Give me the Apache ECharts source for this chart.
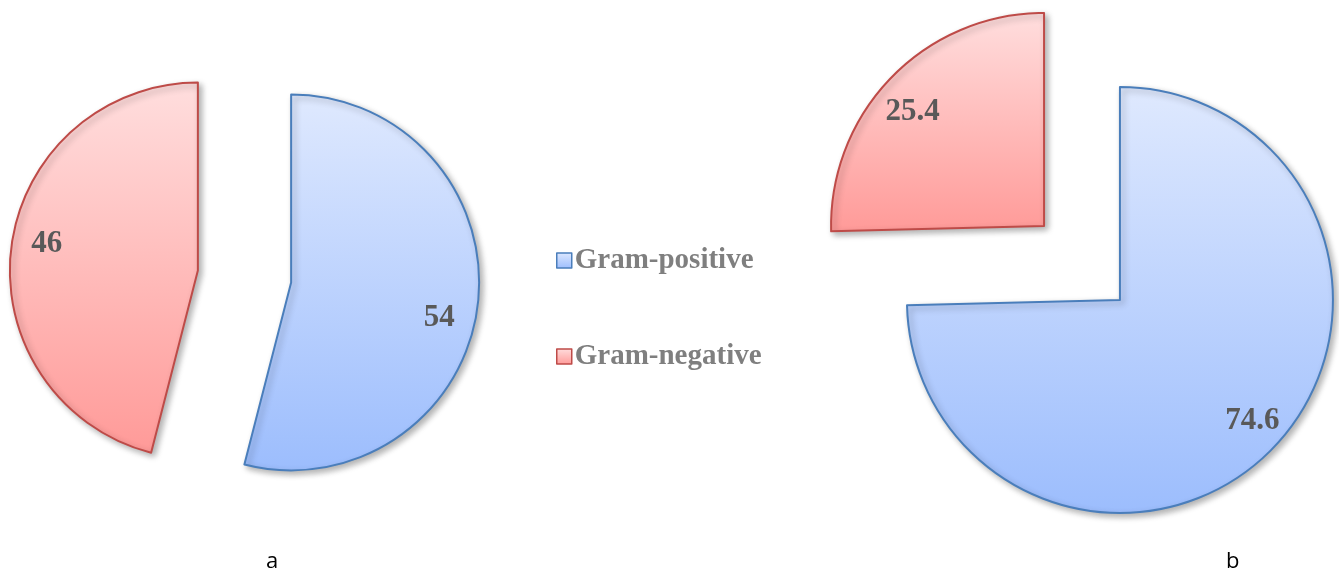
<!DOCTYPE html>
<html>
<head>
<meta charset="utf-8">
<script src="https://cdn.jsdelivr.net/npm/echarts@6/dist/echarts.min.js"></script>
<style>
html,body{margin:0;padding:0;background:#fff;}
#chart{width:1339px;height:571px;}
</style>
</head>
<body>
<div id="chart"></div>
<script>
// Data
const categories = ['Gram-positive', 'Gram-negative'];
const valuesA = [54, 46];
const valuesB = [74.6, 25.4];
const panelLabels = ['a', 'b'];

// Styles
const fills = [
  {top: '#dfe9fe', bottom: '#9cbdfd', border: '#4a7ebb'},
  {top: '#ffdede', bottom: '#ff9a98', border: '#be4b48'}
];
function grad(i) {
  return {type: 'linear', x: 0, y: 0, x2: 0, y2: 1,
    colorStops: [{offset: 0, color: fills[i].top}, {offset: 1, color: fills[i].bottom}]};
}
function makeData(vals) {
  return categories.map((c, i) => ({
    name: c, value: vals[i], selected: true,
    itemStyle: {color: grad(i), borderColor: fills[i].border, borderWidth: 2,
      shadowBlur: 6, shadowOffsetX: 3, shadowOffsetY: 3, shadowColor: 'rgba(0,0,0,0.3)'}
  }));
}
const labelFont = {fontFamily: 'Liberation Serif', fontWeight: 'bold', fontSize: 31, color: '#595959'};
const shiftA = [[52, 23], [-55, -14]];
const shiftB = [[54, 45], [-53, -38]];

const chart = echarts.init(document.getElementById('chart'));
chart.setOption({
  animation: false,
  title: [
    {text: panelLabels[0], left: 261, top: 546,
      textStyle: {fontFamily: 'Open Sans', fontWeight: 'normal', fontSize: 22, color: '#000'}},
    {text: panelLabels[1], left: 1221, top: 546,
      textStyle: {fontFamily: 'Open Sans', fontWeight: 'normal', fontSize: 22, color: '#000'}}
  ],
  legend: {
    orient: 'vertical', left: 551, top: 241, itemGap: 67,
    itemWidth: 15, itemHeight: 15, selectedMode: false,
    data: categories.map((c, i) => ({name: c, icon: 'rect',
      itemStyle: {color: grad(i), borderColor: fills[i].border, borderWidth: 1.5}})),
    textStyle: {fontFamily: 'Liberation Serif', fontWeight: 'bold', fontSize: 29, color: '#7f7f7f', padding: [0, 0, 0, -2]}
  },
  series: [
    {
      type: 'pie', center: [244.5, 276.5], radius: 188, startAngle: 90, clockwise: true,
      selectedMode: 'multiple', selectedOffset: 47,
      emphasis: {disabled: true},
      label: Object.assign({position: 'inside', formatter: '{c}'}, labelFont),
      labelLine: {show: false},
      labelLayout: p => ({dx: shiftA[p.dataIndex][0], dy: shiftA[p.dataIndex][1]}),
      data: makeData(valuesA)
    },
    {
      type: 'pie', center: [1082, 263], radius: 213, startAngle: 90, clockwise: true,
      selectedMode: 'multiple', selectedOffset: 53,
      emphasis: {disabled: true},
      label: Object.assign({position: 'inside', formatter: '{c}'}, labelFont),
      labelLine: {show: false},
      labelLayout: p => ({dx: shiftB[p.dataIndex][0], dy: shiftB[p.dataIndex][1]}),
      data: makeData(valuesB)
    }
  ]
});
</script>
</body>
</html>
